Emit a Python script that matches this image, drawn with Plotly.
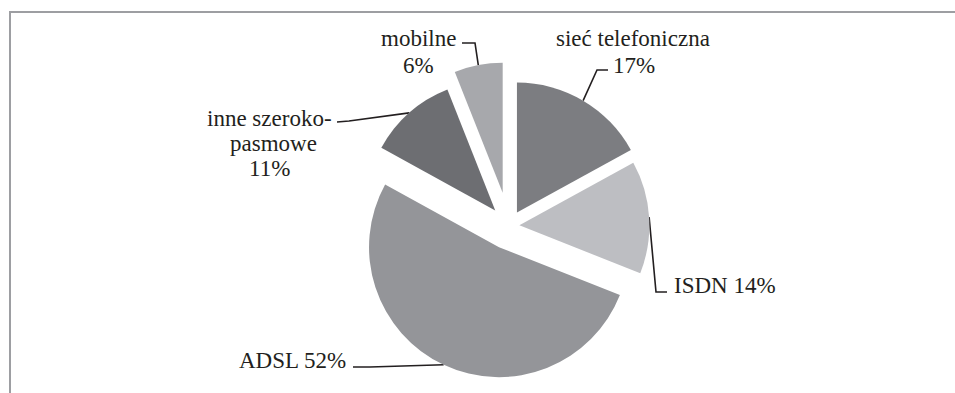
import math
import plotly.graph_objects as go

# Internet access types in households (share, %)
labels = ["sieć telefoniczna", "ISDN", "ADSL", "inne szeroko-pasmowe", "mobilne"]
values = [17, 14, 52, 11, 6]
colors = ["#7c7d81", "#bdbec2", "#949599", "#6d6e72", "#a7a8ac"]
pulls = [0.12, 0.08, 0.18, 0.16, 0.26]

# label text lines per slice
label_lines = [
    ["sieć telefoniczna", "17%"],
    ["ISDN 14%"],
    ["ADSL 52%"],
    ["inne szeroko-", "pasmowe", "11%"],
    ["mobilne", "6%"],
]
# text placement (pixel centres of each line) and leader elbow points
label_pos = [
    [(633, 38), (634, 65)],
    [(725, 285)],
    [(292, 360)],
    [(269, 118), (273, 143), (269, 168)],
    [(418, 38), (418, 65)],
]
leader_start = [
    [(608, 70), (597, 70)],
    [(667, 292), (656, 292)],
    [(353, 367), (370, 367)],
    [(337, 122), (349, 121)],
    [(462, 43), (475, 43)],
]

W, H = 955, 393
CX, CY, R = 509, 226, 130  # pie centre and radius in pixels
max_pull = max(pulls)
half = R * (1 + max_pull)

fig = go.Figure()
fig.add_trace(go.Pie(
    labels=labels, values=values, sort=False, direction="clockwise",
    rotation=0, pull=pulls, textinfo="none", hoverinfo="label+percent",
    marker=dict(colors=colors, line=dict(width=0)),
    domain=dict(x=[CX / W - 0.3, CX / W + 0.3],
                y=[1 - (CY + half) / H, 1 - (CY - half) / H]),
    showlegend=False,
))

# leader lines: from label elbow to the middle of each slice's arc
total = sum(values)
cum = 0
for i, v in enumerate(values):
    mid = math.radians((cum + v / 2) / total * 360)
    cum += v
    dist = (1 + pulls[i]) * R
    ax = CX + dist * math.sin(mid)
    ay = CY - dist * math.cos(mid)
    pts = leader_start[i] + [(ax, ay)]
    fig.add_trace(go.Scatter(
        x=[p[0] for p in pts], y=[p[1] for p in pts], mode="lines",
        line=dict(color="#231f20", width=1.6), hoverinfo="skip",
        showlegend=False, xaxis="x", yaxis="y",
    ))
    for text, (tx, ty) in zip(label_lines[i], label_pos[i]):
        fig.add_annotation(
            x=tx, y=ty, xref="x", yref="y", text=text, showarrow=False,
            xanchor="center", yanchor="middle",
            font=dict(family="Liberation Serif, Times New Roman, serif",
                      size=23, color="#231f20"),
        )

# chart frame
fig.add_shape(type="rect", xref="x", yref="y", x0=10, y0=12, x1=W + 20, y1=H + 20,
              line=dict(color="#9d9ea2", width=2), fillcolor="rgba(0,0,0,0)",
              layer="below")

fig.update_layout(
    width=W, height=H, margin=dict(l=0, r=0, t=0, b=0),
    paper_bgcolor="white", plot_bgcolor="rgba(0,0,0,0)",
    xaxis=dict(range=[0, W], visible=False, fixedrange=True),
    yaxis=dict(range=[H, 0], visible=False, fixedrange=True),
)

fig.write_html("out.html")
